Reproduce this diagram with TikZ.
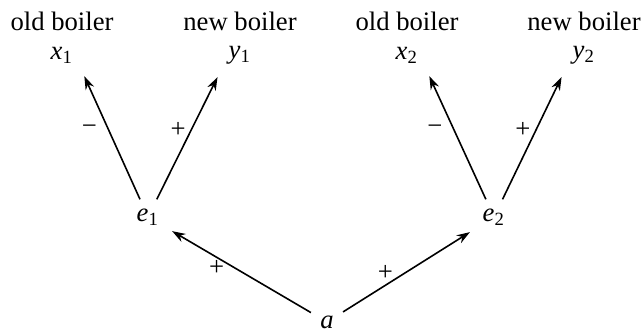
\documentclass[tikz,border=0pt]{standalone}
\usepackage{fontspec}
\setmainfont{Liberation Serif}
\usetikzlibrary{arrows.meta}
\newcommand{\bvar}[2]{\textit{#1}\textsubscript{#2}}
\begin{document}
\begin{tikzpicture}[x=0.375pt,y=-0.375pt,
  edge/.style={-{Stealth[length=5pt,width=3.4pt]},semithick,shorten >=1.5pt},
  sgn/.style={left,inner sep=4pt}]
\useasboundingbox (0,0) rectangle (641,333);
% what each variable stands for
\node (lx1) at (62,21) {old boiler};
\node (ly1) at (240,21) {new boiler};
\node (lx2) at (407,21) {old boiler};
\node (ly2) at (584,21) {new boiler};
% variables
\node (x1) at (62,55) {\bvar{x}{1}};
\node (y1) at (240,55) {\bvar{y}{1}};
\node (x2) at (407,55) {\bvar{x}{2}};
\node (y2) at (584,55) {\bvar{y}{2}};
\node (e1) at (148,217) {\bvar{e}{1}};
\node (e2) at (494,217) {\bvar{e}{2}};
\node (a) at (327,322) {\textit{a}};
% signed effects
\draw[edge] (e1) -- node[sgn,pos=.55] {−} (x1.south east);
\draw[edge] (e1) -- node[sgn,pos=.55,inner sep=1.8pt] {+} (y1.south west);
\draw[edge] (e2) -- node[sgn,pos=.55] {−} (x2.south east);
\draw[edge] (e2) -- node[sgn,pos=.55,inner sep=1.8pt] {+} (y2.south west);
\draw[edge] (a) -- node[sgn,pos=.53] {+} (e1);
\draw[edge] (a) -- node[sgn,pos=.47] {+} (e2);
\end{tikzpicture}
\end{document}
